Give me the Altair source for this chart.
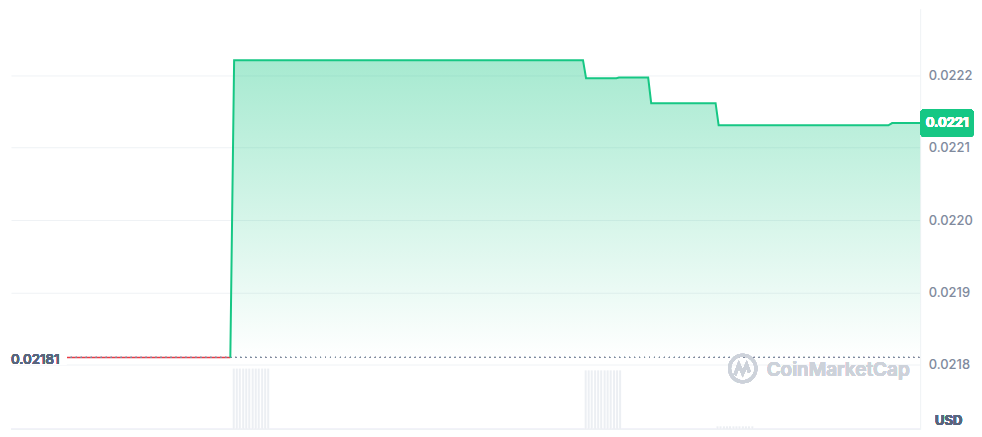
import altair as alt
import pandas as pd

# ---- data ----
# hours since start of window, price in USD
price_t = [0.0, 5.79, 5.89, 15.10, 15.18, 15.98, 16.05, 16.82, 16.90, 18.60, 18.68, 23.16, 23.26, 24.0]
price_v = [0.02181, 0.02181, 0.022221, 0.022221, 0.022196, 0.022196, 0.022197, 0.022197,
           0.0221615, 0.0221615, 0.022131, 0.022131, 0.022134, 0.022134]
base_price = 0.02181

vol_t = [5.88, 5.96, 6.04, 6.13, 6.21, 6.29, 6.38, 6.46, 6.54, 6.63, 6.71, 6.79,
         15.17, 15.25, 15.33, 15.42, 15.50, 15.58, 15.67, 15.75, 15.83, 15.92, 16.00, 16.08,
         18.65, 18.73, 18.82, 18.90, 18.98, 19.07, 19.15, 19.23, 19.32, 19.40, 19.48, 19.57]
vol_v = [100] * 12 + [97] * 12 + [5] * 12

y_ticks = [0.0218, 0.0219, 0.0220, 0.0221, 0.0222]
y_domain = [0.0217106, 0.0222922]
x_domain = [0, 24]

GREEN = "#16c784"
RED = "#ea3943"
GRID = "#eff2f5"
LABEL = "#808a9d"
DARK = "#58667e"

price = pd.DataFrame({"t": price_t, "price": price_v})
red_part = price[price["t"] <= 5.79]
green_part = price[price["t"] >= 5.79]
vol = pd.DataFrame({"t": vol_t, "vol": vol_v})
last_price = price_v[-1]

X = alt.X("t:Q", scale=alt.Scale(domain=x_domain, nice=False, zero=False, padding=0), axis=None)
Yscale = alt.Scale(domain=y_domain, nice=False, zero=False, padding=0)

volume = alt.Chart(vol).mark_bar(size=2, color="#eceff3").encode(
    x=X,
    y=alt.Y("vol:Q", scale=alt.Scale(domain=[0, 692], nice=False, padding=0), axis=None),
)

area = alt.Chart(green_part).mark_area(
    color=alt.Gradient(
        gradient="linear",
        stops=[alt.GradientStop(color="rgba(22,199,132,0.38)", offset=0),
               alt.GradientStop(color="rgba(22,199,132,0.0)", offset=1)],
        x1=1, x2=1, y1=0, y2=1,
    )
).encode(
    x=X,
    y=alt.Y("price:Q", scale=Yscale,
            axis=alt.Axis(orient="right", values=y_ticks, format=".4f", grid=True,
                          gridColor=GRID, domain=True, domainColor=GRID, ticks=False,
                          labelPadding=8, labelColor=LABEL, labelFont="Inter",
                          labelFontSize=13, labelFontWeight=500, title=None)),
    y2=alt.datum(base_price),
)

red_line = alt.Chart(red_part).mark_line(color=RED, strokeWidth=1.5).encode(
    x=X, y=alt.Y("price:Q", scale=Yscale))

ref_line = alt.Chart(price).mark_rule(color=LABEL, strokeDash=[1, 4], strokeWidth=1).encode(
    x=alt.value(0), x2=alt.value(912), y=alt.datum(base_price))

green_line = alt.Chart(green_part).mark_line(color=GREEN, strokeWidth=2).encode(
    x=X, y=alt.Y("price:Q", scale=Yscale))

label_bg = alt.Chart(price).mark_rect(color="white").encode(
    x=alt.value(0), x2=alt.value(56), y=alt.value(341), y2=alt.value(357))

left_label = alt.Chart(price).mark_text(
    align="left", baseline="middle", dy=3, color=DARK, font="Inter", fontSize=13.5, fontWeight=500
).encode(x=alt.value(0), y=alt.datum(base_price), text=alt.value(f"{base_price:.5f}"))

bottom_rule = alt.Chart(price).mark_rule(color=GRID, strokeWidth=1).encode(
    x=alt.value(0), x2=alt.value(912), y=alt.value(422))

badge = alt.Chart(price).mark_rect(color=GREEN, cornerRadius=4, yOffset=-14, y2Offset=14).encode(
    x=alt.value(912), x2=alt.value(966), y=alt.datum(last_price), y2=alt.datum(last_price))
badge_text = alt.Chart(price).mark_text(
    color="white", font="Inter", fontSize=13, fontWeight=700, align="center", baseline="middle"
).encode(x=alt.value(939), y=alt.datum(last_price), text=alt.value(f"{last_price:.4f}"))

usd = alt.Chart(price).mark_text(
    align="left", baseline="middle", color=DARK, font="Inter", fontSize=13, fontWeight=700
).encode(x=alt.value(927), y=alt.value(414), text=alt.value("USD"))

wm_text = alt.Chart(price).mark_text(
    align="left", baseline="middle", color="#cdd2da", font="Inter", fontSize=19, fontWeight=600
).encode(x=alt.value(758), y=alt.value(362), text=alt.value("CoinMarketCap"))
wm_circle = alt.Chart(price).mark_point(
    shape="circle", size=700, filled=False, strokeWidth=3, color="#cdd2da"
).encode(x=alt.value(734), y=alt.value(361))
wm_wave = alt.Chart(price).mark_point(
    shape="M-0.7,0.5 L-0.35,-0.45 L0,0.35 L0.35,-0.45 L0.6,0.25", size=500, filled=False,
    strokeWidth=3, color="#cdd2da"
).encode(x=alt.value(734), y=alt.value(362))

price_layers = alt.layer(
    area, red_line, ref_line, green_line, label_bg, left_label, bottom_rule,
    badge, badge_text, usd, wm_circle, wm_wave, wm_text
)

chart = alt.layer(volume, price_layers).resolve_scale(y="independent").properties(
    width=912, height=422, padding={"left": 0, "top": 0, "right": 0, "bottom": 0}
).configure_view(stroke=None)

chart.save("out.html", embed_options={"renderer": "svg", "actions": False})
